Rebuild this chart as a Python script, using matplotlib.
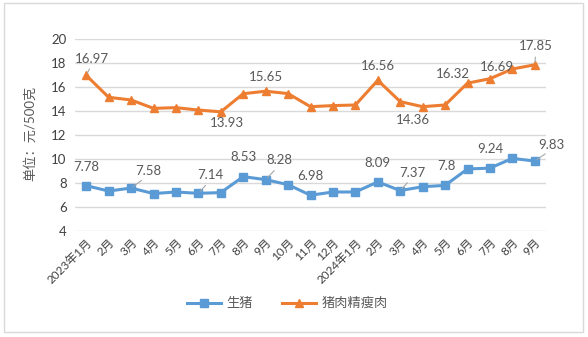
import matplotlib.pyplot as plt
from matplotlib.lines import Line2D
from matplotlib.patches import Rectangle

plt.rcParams['font.family'] = ['Lato', 'Noto Sans CJK SC', 'DejaVu Sans']

months = ["2023年1月", "2月", "3月", "4月", "5月", "6月", "7月", "8月", "9月",
          "10月", "11月", "12月", "2024年1月", "2月", "3月", "4月", "5月",
          "6月", "7月", "8月", "9月"]

pig = [7.78, 7.33, 7.58, 7.12, 7.25, 7.14, 7.2, 8.53, 8.28, 7.86, 6.98,
       7.25, 7.25, 8.09, 7.37, 7.69, 7.8, 9.17, 9.24, 10.05, 9.83]

lean = [16.97, 15.14, 14.92, 14.22, 14.28, 14.08, 13.93, 15.44, 15.65,
        15.45, 14.36, 14.45, 14.5, 16.56, 14.78, 14.36, 14.5, 16.32,
        16.69, 17.5, 17.85]

# labelled points: index -> (dx, dy) offset in pixels, leader line or not
pig_labels = {0: (0, 19, False), 2: (17, 17, True), 5: (12, 18, True),
              7: (0, 20, False), 8: (14, 20, True), 10: (0, 19, False),
              13: (0, 19, False), 14: (12, 18, True), 16: (1, 19, False),
              18: (0, 19, False), 20: (17, 16, True)}
lean_labels = {0: (6, 16, True), 6: (6, -11, False), 8: (0, 14, False),
               13: (0, 14, False), 15: (-10, -13, False), 17: (-15, 9, False),
               18: (7, 12, False), 20: (1, 19, True)}

blue = "#5B9BD5"
orange = "#ED7D31"
txt = "#595959"

fig = plt.figure(figsize=(5.88, 3.37), dpi=100)
fig.patches.append(Rectangle((4 / 588, 5 / 337), 579 / 588, 329 / 337,
                             transform=fig.transFigure, fill=False,
                             edgecolor="#D9D9D9", linewidth=1))
ax = fig.add_axes([75 / 588, 106 / 337, 471 / 588, 192 / 337])

x = list(range(len(months)))
ax.plot(x, pig, color=blue, lw=2.2, marker="s", ms=5.5, zorder=3)
ax.plot(x, lean, color=orange, lw=2.2, marker="^", ms=6, zorder=3)


def add_labels(vals, labels):
    for i, (dx, dy, leader) in labels.items():
        v = vals[i]
        ax.annotate(f"{v:g}", (i, v), xytext=(dx, dy), textcoords="offset pixels",
                    ha="center", va="center", fontsize=9.5, color=txt, zorder=4)
        if leader:
            ax.annotate("", (i, v), xytext=(dx * 0.75, dy * 0.55),
                        textcoords="offset pixels",
                        arrowprops=dict(arrowstyle="-", color="#A6A6A6", lw=0.8))


add_labels(pig, pig_labels)
add_labels(lean, lean_labels)

ax.set_xlim(-0.5, len(months) - 0.5)
ax.set_ylim(4, 20)
ax.set_yticks(range(4, 21, 2))
ax.set_xticks(x)
ax.set_xticklabels(months, rotation=45, ha="right", rotation_mode="anchor",
                   fontsize=8.5, color="#404040")
ax.tick_params(axis="y", labelsize=9.5, labelcolor="#404040", length=0, pad=6)
ax.tick_params(axis="x", length=0, pad=4)
ax.grid(axis="y", color="#D9D9D9", lw=1)
ax.set_axisbelow(True)
for s in ax.spines.values():
    s.set_visible(False)

fig.text(30 / 588, 1 - 133 / 337, "单位：元/500克", rotation=90, ha="center",
         va="center", fontsize=9.5, color=txt)

handles = [Line2D([], [], color=blue, lw=2.2, marker="s", ms=5.5),
           Line2D([], [], color=orange, lw=2.2, marker="^", ms=6)]
fig.legend(handles, ["生猪", "猪肉精瘦肉"], loc="center",
           bbox_to_anchor=(287 / 588, 1 - 303 / 337), ncol=2, frameon=False,
           fontsize=9.5, labelcolor=txt, handlelength=2.6, columnspacing=2.2,
           handletextpad=0.4)

fig.savefig("out.png", dpi=100)
